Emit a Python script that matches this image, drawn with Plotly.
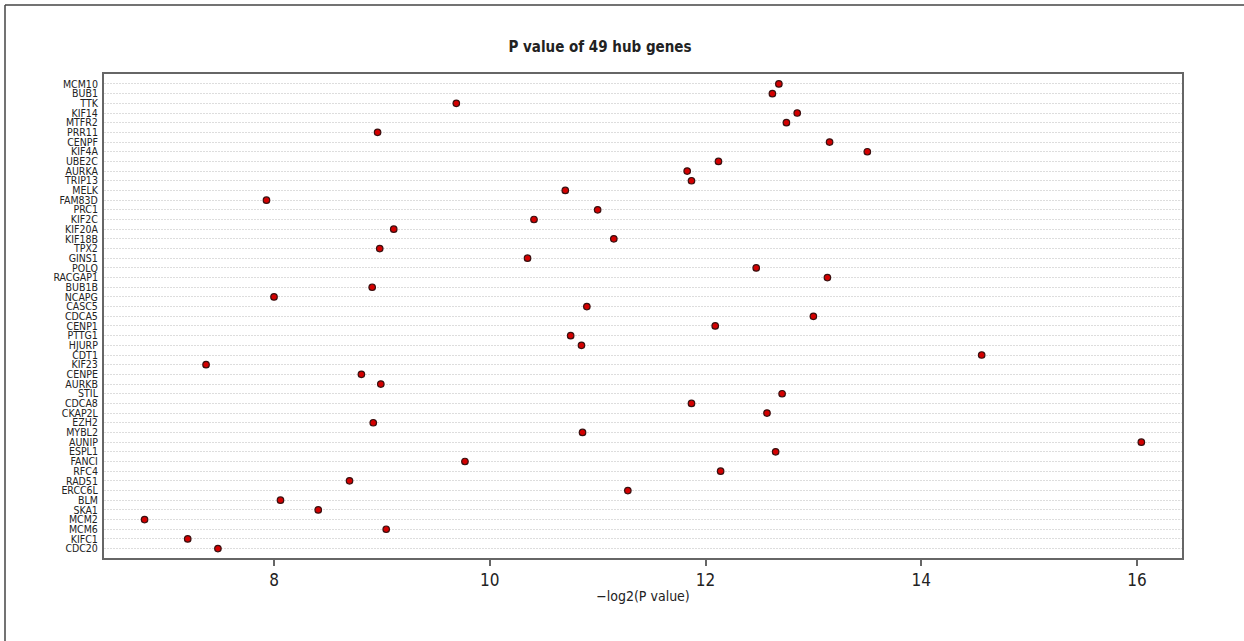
import plotly.graph_objects as go

genes = ["MCM10", "BUB1", "TTK", "KIF14", "MTFR2", "PRR11", "CENPF", "KIF4A", "UBE2C", "AURKA",
         "TRIP13", "MELK", "FAM83D", "PRC1", "KIF2C", "KIF20A", "KIF18B", "TPX2", "GINS1", "POLQ",
         "RACGAP1", "BUB1B", "NCAPG", "CASC5", "CDCA5", "CENP1", "PTTG1", "HJURP", "CDT1", "KIF23",
         "CENPE", "AURKB", "STIL", "CDCA8", "CKAP2L", "EZH2", "MYBL2", "AUNIP", "ESPL1", "FANCI",
         "RFC4", "RAD51", "ERCC6L", "BLM", "SKA1", "MCM2", "MCM6", "KIFC1", "CDC20"]
neg_log2_p = [12.68, 12.62, 9.69, 12.85, 12.75, 8.96, 13.15, 13.50, 12.12, 11.83,
              11.87, 10.70, 7.93, 11.00, 10.41, 9.11, 11.15, 8.98, 10.35, 12.47,
              13.13, 8.91, 8.00, 10.90, 13.00, 12.09, 10.75, 10.85, 14.56, 7.37,
              8.81, 8.99, 12.71, 11.87, 12.57, 8.92, 10.86, 16.04, 12.65, 9.77,
              12.14, 8.70, 11.28, 8.06, 8.41, 6.80, 9.04, 7.20, 7.48]
x_ticks = [8, 10, 12, 14, 16]

W, H = 1244, 641
ML, MR, MT, MB = 104, 62, 74, 83
FONT = "DejaVu Sans Condensed"

fig = go.Figure()
fig.add_trace(go.Scatter(
    x=neg_log2_p, y=genes, mode="markers",
    marker=dict(size=6.5, color="#d40000", line=dict(color="#3a1010", width=1.2)),
    showlegend=False, hoverinfo="x+y"))

pw = W - ML - MR
ph = H - MT - MB
px = lambda p: (p - ML) / pw
py = lambda p: (H - MB - p) / ph

n = len(genes)
fig.update_layout(
    width=W, height=H,
    margin=dict(l=ML, r=MR, t=MT, b=MB),
    paper_bgcolor="white", plot_bgcolor="white",
    font=dict(family=FONT, color="#222"),
    title=dict(text="<b>P value of 49 hub genes</b>", x=600 / W, xanchor="center",
               y=1 - 47 / H, yanchor="middle", font=dict(size=15, family=FONT, color="#222")),
    xaxis=dict(range=[6.424, 16.417], tickvals=x_ticks, ticks="outside", ticklen=6,
               tickwidth=2, tickcolor="#666", showgrid=False, zeroline=False,
               showline=True, linecolor="#666", linewidth=2, mirror=True,
               tickfont=dict(size=17, family=FONT, color="#222"),
               title=dict(text="\u2212log2(P value)", standoff=2,
                          font=dict(size=14, family=FONT, color="#222"))),
    yaxis=dict(type="category", categoryorder="array", categoryarray=genes,
               tickmode="array", tickvals=genes, ticktext=genes,
               range=[n - 1 + 0.97, -1.03], showgrid=True, gridcolor="#dddddd",
               griddash="2px,1px", gridwidth=1, ticks="", zeroline=False,
               showline=True, linecolor="#666", linewidth=2, mirror=True,
               tickfont=dict(size=10.5, family=FONT, color="#222"), ticklabelstandoff=2),
    shapes=[
        dict(type="line", xref="paper", yref="paper", x0=px(5), x1=px(W + 10),
             y0=py(5), y1=py(5), line=dict(color="#444", width=1.5)),
        dict(type="line", xref="paper", yref="paper", x0=px(5), x1=px(5),
             y0=py(5), y1=py(H + 10), line=dict(color="#444", width=1.5)),
    ],
)

fig.write_html("out.html")
